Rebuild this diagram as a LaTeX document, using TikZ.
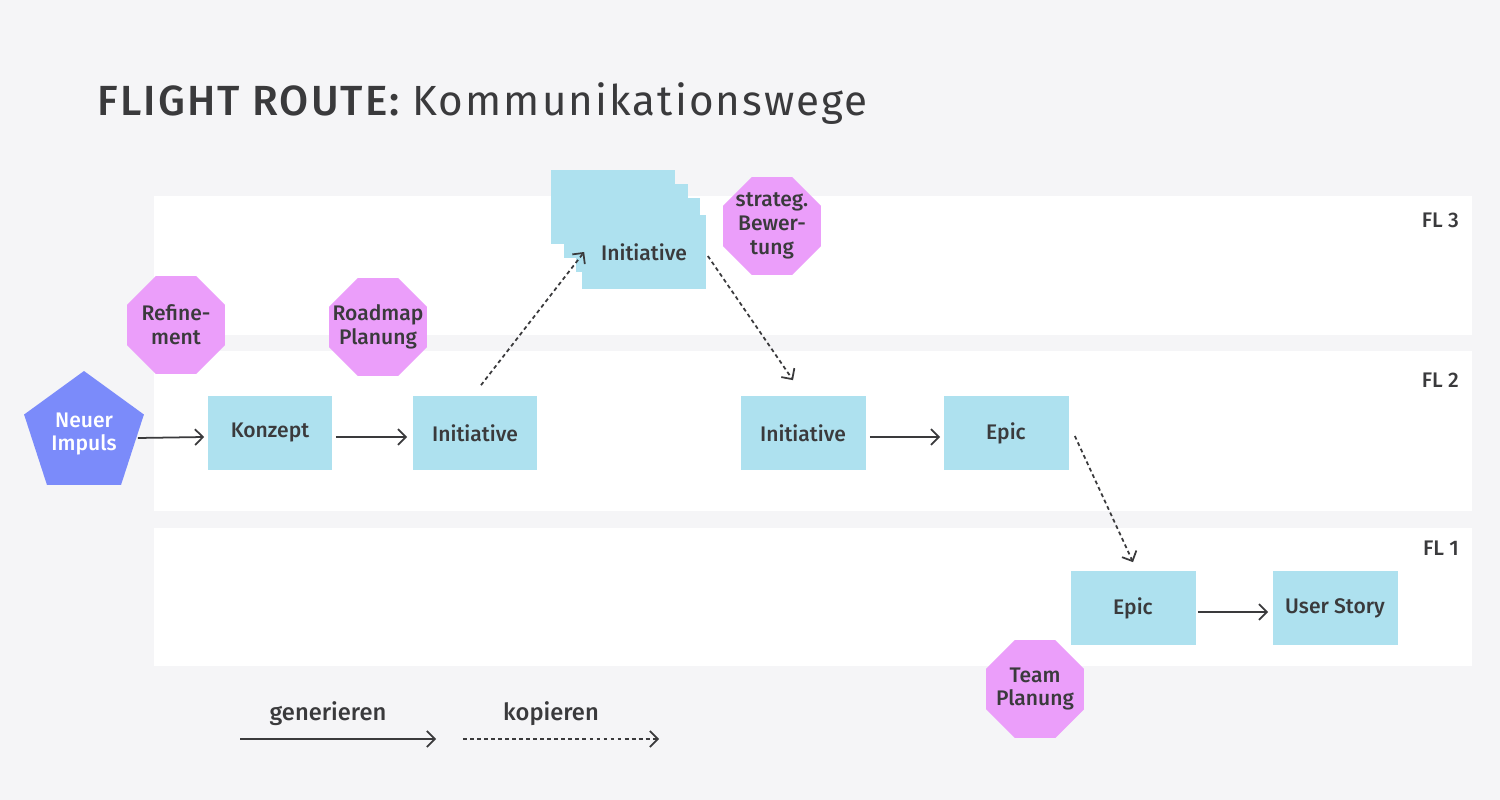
\documentclass[tikz,border=0pt]{standalone}
\usepackage{fontspec}
\setmainfont{Fira Sans}[UprightFont=* Medium,BoldFont=* SemiBold]
\newfontfamily\lightfont{Fira Sans}
\usetikzlibrary{shapes.geometric,arrows.meta}
\definecolor{pagebg}{HTML}{F5F5F7}
\definecolor{ink}{HTML}{3A3A3C}
\definecolor{itemblue}{HTML}{AEE1EF}
\definecolor{meetpink}{HTML}{EB9EFA}
\definecolor{impulsblue}{HTML}{7B8BFA}
\tikzset{
  lane/.style={fill=white,draw=none},
  lanelabel/.style={anchor=east,text=ink,font=\fontsize{12}{14}\selectfont},
  item/.style={fill=itemblue,minimum width=2.5cm,minimum height=1.5cm,inner sep=0pt,
    text=ink,font=\fontsize{12}{14}\selectfont},
  meettext/.style={align=center,text=ink,font=\fontsize{12}{13.6}\selectfont},
  meeting/.style={regular polygon,regular polygon sides=8,minimum size=2.12cm,inner sep=0pt,
    fill=meetpink},
  impuls/.style={regular polygon,regular polygon sides=5,minimum size=2.52cm,inner sep=0pt,
    fill=impulsblue,align=center,text=white,font=\fontsize{12}{13.6}\selectfont},
  legendtext/.style={text=ink,font=\fontsize{13.5}{15}\selectfont},
  genarrow/.style={draw=ink,line width=1pt,-{Straight Barb[length=4.5pt,width=9pt]}},
  copyarrow/.style={genarrow,dash pattern=on 2.2pt off 1.8pt},
}
\begin{document}
\begin{tikzpicture}[x=0.02cm,y=-0.02cm]
      \fill[pagebg] (0,0) rectangle (1500,800);
      \useasboundingbox (0,0) rectangle (1500,800);
      % title
      \node[anchor=base west,inner sep=0pt,text=ink,font=\fontsize{24}{28}\selectfont\addfontfeature{LetterSpace=5}] (title) at (97,116)
        {FLIGHT ROUTE: {\lightfont\addfontfeature{LetterSpace=5}Kommunikationswege}};
      % lanes
      \fill[lane] (154,196) rectangle (1472,335);
      \fill[lane] (154,351) rectangle (1472,511);
      \fill[lane] (154,528) rectangle (1472,666);
      \node[lanelabel] (fl3) at (1465,220) {FL 3};
      \node[lanelabel] (fl2) at (1465,380) {FL 2};
      \node[lanelabel] (fl1) at (1465,548) {FL 1};
      % nodes
      \draw
        (84,434) node[impuls] (impuls) {Neuer\\Impuls}
        (176,325) node[meeting,label={[meettext]center:Refine-\\ment}] (refine) {}
        (378,327) node[meeting,label={[meettext]center:Roadmap\\Planung}] (roadmap) {}
        (772,226) node[meeting,label={[meettext]center:strateg.\\Bewer-\\tung}] (strateg) {}
        (1035,689) node[meeting,label={[meettext]center:Team\\Planung}] (team) {}
        (270,433) node[item] (konzept) {Konzept}
        (475,433) node[item] (initA) {Initiative}
        (613,207) node[item] (stackA) {}
        (626,221) node[item] (stackB) {}
        (638,235) node[item] (stackC) {}
        (644,252) node[item] (stackD) {Initiative}
        (803,433) node[item] (initB) {Initiative}
        (1006,433) node[item] (epicA) {Epic}
        (1133,608) node[item] (epicB) {Epic}
        (1335,608) node[item] (story) {User Story};
      % legend
      \node[legendtext] (gentext) at (328,714) {generieren};
      \node[legendtext] (copytext) at (551,714) {kopieren};
      \coordinate (genstart) at (240,739);
      \coordinate (genend) at (436,739);
      \coordinate (copystart) at (463,739);
      \coordinate (copyend) at (659,739);
      \begin{scope}[genarrow]
        \draw ([yshift=-0.08cm]impuls.east) -- ([xshift=-0.06cm,yshift=-0.08cm]konzept.west);
        \draw ([xshift=0.06cm,yshift=-0.08cm]konzept.east) -- ([xshift=-0.1cm,yshift=-0.08cm]initA.west);
        \draw ([xshift=0.08cm,yshift=-0.08cm]initB.east) -- ([xshift=-0.06cm,yshift=-0.08cm]epicA.west);
        \draw ([xshift=0.04cm,yshift=-0.08cm]epicB.east) -- ([xshift=-0.08cm,yshift=-0.08cm]story.west);
        \draw (genstart) -- (genend);
      \end{scope}
      \begin{scope}[copyarrow]
        \draw ([xshift=0.12cm,yshift=0.2cm]initA.north) -- ([xshift=0.06cm]stackD.west);
        \draw ([xshift=0.02cm,yshift=-0.08cm]stackD.east) -- ([xshift=-0.2cm,yshift=0.3cm]initB.north);
        \draw ([xshift=0.12cm,yshift=-0.06cm]epicA.east) -- ([yshift=0.16cm]epicB.north);
        \draw (copystart) -- (copyend);
      \end{scope}
    \end{tikzpicture}
\end{document}
